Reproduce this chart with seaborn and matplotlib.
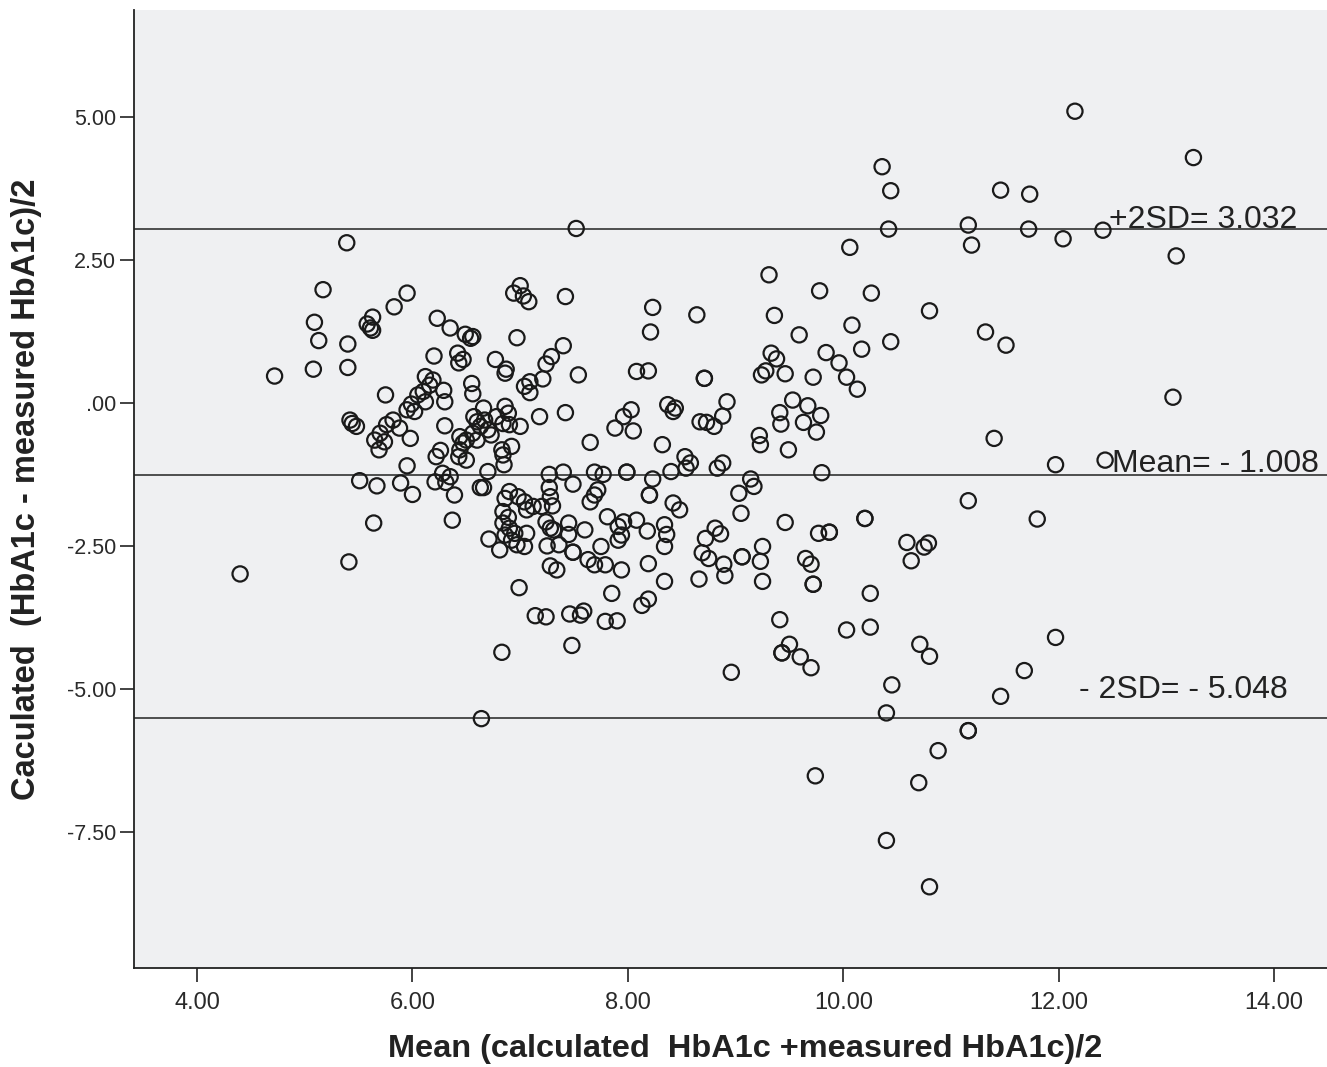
import matplotlib
matplotlib.use("Agg")
import matplotlib.pyplot as plt
import seaborn as sns
import pandas as pd
from matplotlib.ticker import FuncFormatter, FixedLocator
from matplotlib import font_manager

# ---- data ----
mean_vals = [
    5.39, 5.17, 5.95, 5.83, 5.09, 5.13, 5.40, 5.63, 5.58, 5.63, 5.61, 6.23, 6.35, 6.49, 6.54, 6.56,
    6.20, 6.42, 6.47, 6.43, 4.72, 5.08, 5.40, 5.75, 6.12, 6.19, 6.16, 6.10, 6.05, 6.12, 5.99, 5.95,
    6.02, 6.29, 6.30, 6.55, 6.56, 6.57, 6.60, 6.30, 5.42, 5.44, 5.48, 5.82, 5.76, 5.88, 5.70, 5.65,
    5.74, 5.98, 6.44, 6.50, 6.47, 6.56,
    5.69, 5.95, 5.51, 5.67, 5.89, 6.00, 5.64, 5.41, 4.40, 6.22, 6.26, 6.43, 6.50, 6.44, 6.21, 6.28,
    6.35, 6.31, 6.39, 6.37, 6.63,
    7.52, 7.00, 6.94, 7.03, 7.08, 7.42, 8.23, 8.21, 8.64, 6.97, 7.40, 7.29, 7.24, 6.77, 6.87, 6.86,
    7.54, 7.21, 7.09, 7.04, 7.09, 8.08, 8.19, 7.18, 7.42, 6.66, 6.86, 6.89, 6.78, 6.84, 6.90, 7.00,
    6.67, 6.63, 6.70, 6.73, 6.60, 6.83, 6.92, 8.37, 8.44, 8.42, 8.67, 8.03, 7.96, 7.88, 8.05, 7.65,
    8.32,
    8.53, 8.58, 8.54, 6.84, 6.85, 6.70, 6.66, 7.27, 7.40, 7.49, 7.69, 7.77, 7.99, 7.99, 8.23, 8.40,
    8.20, 8.20, 8.42, 8.48, 7.27, 7.28, 7.30, 7.72, 7.69, 7.65, 6.90, 6.86, 6.98, 7.04, 7.12, 7.06,
    7.20, 6.84, 6.89, 6.84, 6.90, 6.95, 6.86, 6.92, 6.97, 7.04, 7.06, 6.71, 6.81, 7.24, 7.28, 7.31,
    7.25, 7.36, 7.45, 7.45, 7.60, 7.49, 7.49, 7.28, 7.34, 7.75, 7.63, 7.69, 7.79, 7.81, 7.91, 7.96,
    7.94, 7.91, 8.08, 8.18, 8.34, 8.36, 8.34, 7.94, 8.19, 8.34, 6.99, 7.85, 8.19, 8.13, 7.14, 7.24,
    7.46, 7.56, 7.59, 7.79, 7.90, 6.83, 7.48,
    10.06, 9.31, 9.78, 10.26, 9.36, 10.08, 9.59, 10.44, 10.17, 9.84, 9.96, 9.33, 9.38, 9.28, 9.24,
    9.46, 9.72, 10.03, 10.13, 8.71, 8.71, 8.92, 8.88, 8.73, 8.80, 9.53, 9.67, 9.79, 9.63, 9.75, 9.41,
    9.42, 9.22, 9.23, 9.49,
    8.88, 8.83, 9.80, 9.14, 9.17, 9.03, 9.05, 9.46, 10.20, 10.20, 9.77, 9.87, 9.87, 8.81, 8.86, 8.72,
    8.69, 8.75, 8.66, 8.89, 8.90, 9.06, 9.06, 9.25, 9.23, 9.25, 9.65, 9.70, 9.72, 9.72, 10.25, 9.41,
    10.03, 10.25, 9.50, 9.43, 9.43, 9.60, 9.70, 8.96, 10.45,
    12.15, 13.25, 11.46, 11.73, 11.16, 11.19, 11.72, 12.04, 12.41, 13.09, 10.80, 11.32, 11.51, 13.06,
    11.40, 10.36, 10.44, 10.42,
    11.97, 12.43, 11.16, 11.80, 10.59, 10.79, 10.75, 10.63, 10.71, 10.80, 11.97, 11.68, 11.46, 10.40,
    11.16, 11.16, 10.88, 10.70, 10.40, 10.80, 9.74, 6.64,
]
diff_vals = [
    2.80, 1.98, 1.92, 1.68, 1.41, 1.09, 1.03, 1.50, 1.38, 1.27, 1.31, 1.48, 1.31, 1.20, 1.13, 1.16,
    0.82, 0.87, 0.76, 0.70, 0.47, 0.59, 0.62, 0.14, 0.46, 0.40, 0.31, 0.20, 0.14, 0.02, -0.02, -0.12,
    -0.15, 0.22, 0.02, 0.34, 0.16, -0.24, -0.33, -0.40, -0.30, -0.36, -0.41, -0.30, -0.38, -0.44, -0.53, -0.65,
    -0.68, -0.62, -0.59, -0.65, -0.70, -0.53,
    -0.82, -1.10, -1.36, -1.45, -1.40, -1.60, -2.10, -2.78, -2.99, -0.94, -0.83, -0.94, -1.00, -0.82, -1.38, -1.23,
    -1.29, -1.39, -1.61, -2.05, -1.48,
    3.05, 2.05, 1.92, 1.87, 1.77, 1.86, 1.67, 1.24, 1.54, 1.14, 1.00, 0.81, 0.68, 0.76, 0.59, 0.52,
    0.49, 0.42, 0.37, 0.29, 0.18, 0.55, 0.56, -0.24, -0.17, -0.09, -0.06, -0.18, -0.24, -0.36, -0.38, -0.41,
    -0.30, -0.41, -0.47, -0.56, -0.65, -0.82, -0.76, -0.03, -0.09, -0.15, -0.33, -0.12, -0.24, -0.44, -0.49, -0.69,
    -0.73,
    -0.94, -1.05, -1.14, -0.91, -1.08, -1.20, -1.48, -1.25, -1.21, -1.42, -1.21, -1.25, -1.21, -1.21, -1.33, -1.20,
    -1.61, -1.61, -1.75, -1.87, -1.48, -1.64, -1.80, -1.52, -1.61, -1.73, -1.55, -1.67, -1.64, -1.73, -1.81, -1.87,
    -1.81, -1.90, -2.00, -2.10, -2.19, -2.28, -2.31, -2.40, -2.48, -2.51, -2.28, -2.38, -2.57, -2.08, -2.19, -2.22,
    -2.50, -2.48, -2.10, -2.30, -2.22, -2.61, -2.61, -2.85, -2.92, -2.51, -2.74, -2.83, -2.83, -1.99, -2.16, -2.08,
    -2.31, -2.40, -2.05, -2.24, -2.13, -2.30, -2.51, -2.92, -2.81, -3.12, -3.23, -3.33, -3.43, -3.54, -3.72, -3.74,
    -3.69, -3.71, -3.64, -3.82, -3.81, -4.36, -4.24,
    2.72, 2.24, 1.96, 1.92, 1.53, 1.36, 1.19, 1.07, 0.94, 0.88, 0.70, 0.87, 0.77, 0.56, 0.49,
    0.51, 0.45, 0.45, 0.24, 0.43, 0.43, 0.02, -0.23, -0.34, -0.41, 0.05, -0.05, -0.22, -0.34, -0.51, -0.17,
    -0.37, -0.57, -0.73, -0.82,
    -1.05, -1.14, -1.22, -1.33, -1.46, -1.58, -1.93, -2.09, -2.02, -2.02, -2.28, -2.26, -2.26, -2.19, -2.29, -2.37,
    -2.62, -2.72, -3.08, -2.82, -3.02, -2.69, -2.69, -2.51, -2.77, -3.12, -2.72, -2.82, -3.17, -3.17, -3.33, -3.79,
    -3.97, -3.92, -4.22, -4.37, -4.37, -4.44, -4.63, -4.71, -4.93,
    5.10, 4.29, 3.72, 3.65, 3.11, 2.76, 3.04, 2.87, 3.02, 2.57, 1.61, 1.24, 1.01, 0.10,
    -0.62, 4.13, 3.71, 3.04,
    -1.08, -1.00, -1.71, -2.03, -2.44, -2.45, -2.52, -2.76, -4.22, -4.43, -4.10, -4.68, -5.13, -5.42,
    -5.73, -5.73, -6.08, -6.64, -7.65, -8.46, -6.52, -5.52,
]

ref_lines = [3.04, -1.26, -5.51]
ref_labels = ["+2SD= 3.032", "Mean= - 1.008", "- 2SD= - 5.048"]
x_ticks = [4, 6, 8, 10, 12, 14]
y_ticks = [5.0, 2.5, 0.0, -2.5, -5.0, -7.5]

df = pd.DataFrame({"mean": mean_vals, "diff": diff_vals})

sns.set_theme(style="ticks")
plt.rcParams["font.family"] = ["Liberation Sans", "DejaVu Sans"]

installed = {f.name for f in font_manager.fontManager.ttflist}
narrow = "Liberation Sans Narrow" if "Liberation Sans Narrow" in installed else "Liberation Sans"
narrow_scale = 1.0 if narrow == "Liberation Sans Narrow" else 0.85

fig = plt.figure(figsize=(13.27, 10.67), dpi=100)
ax = fig.add_axes([134 / 1327, 1 - 968 / 1067, 1 - 134 / 1327, (968 - 10) / 1067])
ax.set_facecolor("#eff0f2")

sns.scatterplot(data=df, x="mean", y="diff", ax=ax, marker="o", s=120,
                facecolor="none", edgecolor="#1a1a1a", linewidth=1.6, zorder=3)

for yv in ref_lines:
    ax.axhline(yv, color="#222222", linewidth=1.1, zorder=2)

ax.text(12.47, 3.20, ref_labels[0], fontsize=23, color="#222222", va="center", ha="left", zorder=4)
ax.text(12.49, -1.07, ref_labels[1], fontsize=23, color="#222222", va="center", ha="left", zorder=4)
ax.text(12.19, -5.02, ref_labels[2], fontsize=23, color="#222222", va="center", ha="left", zorder=4)

ax.set_xlim(3.415, 14.49)
ax.set_ylim(-9.88, 6.87)
ax.xaxis.set_major_locator(FixedLocator(x_ticks))
ax.yaxis.set_major_locator(FixedLocator(y_ticks))

def fmt(v, pos):
    s = f"{v:.2f}"
    if s in ("0.00", "-0.00"):
        return ".00"
    return s

ax.xaxis.set_major_formatter(FuncFormatter(fmt))
ax.yaxis.set_major_formatter(FuncFormatter(fmt))
ax.tick_params(axis="both", direction="out", length=10, width=1.2, color="#222222",
               labelcolor="#2a2a2a")
ax.tick_params(axis="x", pad=7)
ax.tick_params(axis="y", pad=3)
for lab in ax.get_xticklabels():
    lab.set_fontfamily(narrow)
    lab.set_fontsize(20 * narrow_scale)
for lab in ax.get_yticklabels():
    lab.set_fontfamily("Liberation Sans")
    lab.set_fontsize(15.5)

for side in ("top", "right"):
    ax.spines[side].set_visible(False)
for side in ("left", "bottom"):
    ax.spines[side].set_color("#222222")
    ax.spines[side].set_linewidth(1.3)

ax.set_xlabel("Mean (calculated  HbA1c +measured HbA1c)/2", fontsize=27.5 * narrow_scale,
              fontfamily=narrow, fontweight="bold", color="#222222")
ax.xaxis.label.set_verticalalignment("center")
ax.xaxis.set_label_coords(0.512, -(1049 - 968) / 958)
ax.set_ylabel("Caculated  (HbA1c - measured HbA1c)/2", fontsize=23.5,
              fontweight="bold", color="#222222", labelpad=18)

fig.savefig("out.png", dpi=100, facecolor="white")
